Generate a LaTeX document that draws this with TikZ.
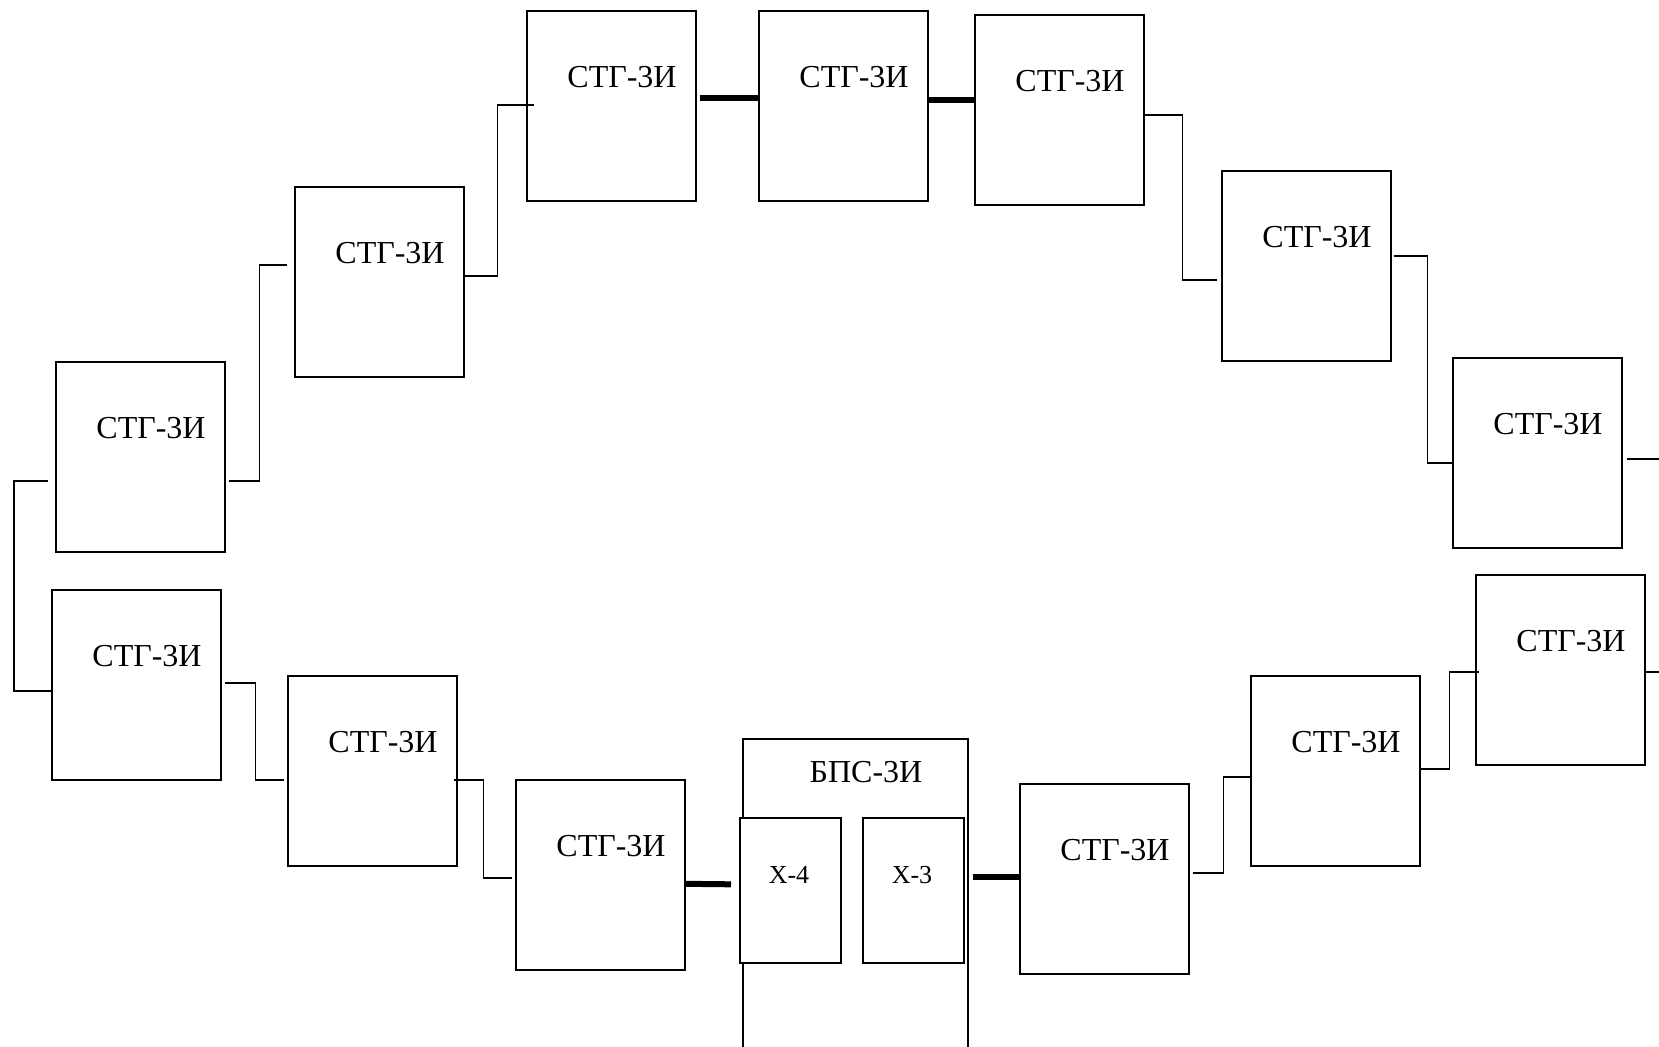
\documentclass[tikz,border=0pt]{standalone}
\usepackage{fontspec}
\setmainfont{Liberation Serif}
\usepackage{tikz}

\newcommand\stgfont{\fontsize{16}{19}\selectfont}
\newcommand\xlblfont{\fontsize{13}{15}\selectfont}

\tikzset{
  stg/.style={draw, line width=0.8pt, minimum width=84.5pt, minimum height=95pt,
    inner sep=0pt, anchor=north west},
  xbox/.style={draw, fill=white, line width=0.8pt, minimum width=50.5pt,
    minimum height=72.5pt, inner sep=0pt, anchor=north west},
  lbl/.style={inner sep=0pt, font=\stgfont},
  wire/.style={line width=0.8pt},
  bus/.style={line width=3pt},
}

\begin{document}
\begin{tikzpicture}[x=0.5pt, y=-0.5pt]

  \def \labx {96}
  \def \laby {67}
  \clip (0,0) rectangle (1659,1046);

  % STG boxes: name/left/top
  \foreach \n/\x/\y in {a/51/589, b/55/361, c/294/186, d/526/10, e/758/10, f/974/14,
                        g/1221/170, h/1452/357, i/1475/574, j/1250/675, k/1019/783,
                        l/515/779, m/287/675} {
    \node[stg] (\n) at (\x,\y) {};
    \node[lbl] (\n-t) at ([shift={(\labx,\laby)}]\n.north west) {СТГ-3И};
  }

  % BPS, open at the bottom
  \node[stg, minimum width=112.5pt, minimum height=200pt] (bps) at (742,738) {};
  \node[lbl] (bps-t) at ([shift={(124,34)}]bps.north west) {БПС-3И};
  \node[xbox] (x4) at (739,817) {};
  \node[xbox] (x3) at (862,817) {};
  \node[lbl, font=\xlblfont] (x4-t) at ([shift={(50,58)}]x4.north west) {Х-4};
  \node[lbl, font=\xlblfont] (x3-t) at ([shift={(50,58)}]x3.north west) {Х-3};

  % links
  \draw[wire] ([shift={(-7,24)}]b.west) -- ++(-34,0) |- ([shift={(0,6)}]a.west);
  \draw[wire] ([shift={(3,-2)}]a.east) -- ++(31,0) |- ([shift={(-3,9)}]m.west);
  \draw[wire] ([shift={(-4,9)}]m.east) -- ++(30,0) |- ([shift={(-3,3)}]l.west);
  \draw[bus] ([shift={(0,9)}]l.east) -- ([shift={(-8,-6)}]x4.west);
  \draw[bus] ([shift={(8,-13.5)}]x3.east) -- ([shift={(0,-2)}]k.west);
  \draw[wire] ([shift={(3,-6)}]k.east) -- ++(31,0) |- ([shift={(0,6)}]j.west);
  \draw[wire] ([shift={(0,-2)}]j.east) -- ++(29,0) |- ([shift={(4,2)}]i.west);
  \draw[wire] ([shift={(0,2)}]i.east) -- ++(16,0);
  \draw[wire] ([shift={(4,6)}]h.east) -- ++(35,0);
  \draw[wire] ([shift={(2,-10)}]g.east) -- ++(34,0) |- ([shift={(0,10)}]h.west);
  \draw[wire] ([shift={(0,5)}]f.east) -- ++(38,0) |- ([shift={(-4,14)}]g.west);
  \draw[bus] ([shift={(0,-6)}]e.east) -- ([shift={(0,-10)}]f.west);
  \draw[bus] ([shift={(3,-8)}]d.east) -- ([shift={(0,-8)}]e.west);
  \draw[wire] ([shift={(0,-6)}]c.east) -- ++(33,0) |- ([shift={(8,-1)}]d.west);
  \draw[wire] ([shift={(3,24)}]b.east) -- ++(31,0) |- ([shift={(-7,-17)}]c.west);

\end{tikzpicture}
\end{document}
